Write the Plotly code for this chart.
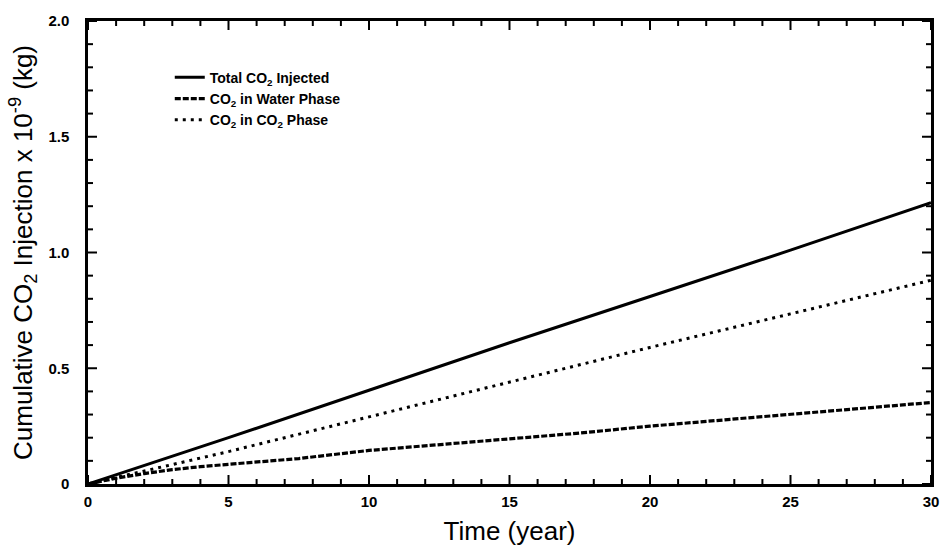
import plotly.graph_objects as go

# Data
years_total = [0, 5, 10, 15, 20, 25, 30]
total_injected = [0.0, 0.20, 0.405, 0.61, 0.81, 1.01, 1.215]

years_water = [0, 1, 2, 3, 4, 5, 7.5, 10, 12.5, 15, 17.5, 20, 22.5, 25, 27.5, 30]
co2_water = [0.0, 0.025, 0.045, 0.062, 0.075, 0.085, 0.11, 0.145, 0.17, 0.195,
             0.22, 0.25, 0.275, 0.30, 0.325, 0.352]

years_co2 = [0, 5, 10, 15, 20, 25, 30]
co2_co2phase = [0.0, 0.14, 0.29, 0.44, 0.59, 0.735, 0.88]

names = ["<b>Total CO<sub>2</sub> Injected</b>",
         "<b>CO<sub>2</sub> in Water Phase</b>",
         "<b>CO<sub>2</sub> in CO<sub>2</sub> Phase</b>"]

x_tick_vals = [0, 5, 10, 15, 20, 25, 30]
x_minor_vals = list(range(0, 31))
y_tick_vals = [0, 0.5, 1.0, 1.5, 2.0]
y_tick_text = ["0", "0.5", "1.0", "1.5", "2.0"]
y_minor_vals = [round(i * 0.1, 1) for i in range(0, 21)]

fig = go.Figure()
fig.add_trace(go.Scatter(x=years_total, y=total_injected, mode="lines", name=names[0],
                         line=dict(color="black", width=3)))
fig.add_trace(go.Scatter(x=years_water, y=co2_water, mode="lines", name=names[1],
                         line=dict(color="black", width=3.2, dash="6px,2px")))
fig.add_trace(go.Scatter(x=years_co2, y=co2_co2phase, mode="lines", name=names[2],
                         line=dict(color="black", width=3, dash="3px,5px")))

# Inside tick marks on all four sides (major longer than minor)
MAJ, MIN = 9, 5
shapes = []
tick_line = dict(color="black", width=2)
for v in x_minor_vals:
    L = MAJ if v in x_tick_vals else MIN
    for anchor, sgn in ((0, 1), (1, -1)):
        shapes.append(dict(type="line", xref="x", yref="paper", ysizemode="pixel",
                           yanchor=anchor, x0=v, x1=v, y0=0, y1=sgn * L, line=tick_line))
for v in y_minor_vals:
    L = MAJ if v in y_tick_vals else MIN
    for anchor, sgn in ((0, 1), (1, -1)):
        shapes.append(dict(type="line", xref="paper", yref="y", xsizemode="pixel",
                           xanchor=anchor, y0=v, y1=v, x0=0, x1=sgn * L, line=tick_line))

font_family = "Liberation Sans, Arial, sans-serif"

fig.update_layout(
    width=951, height=554,
    margin=dict(l=88, r=16, t=20, b=70),
    paper_bgcolor="white", plot_bgcolor="white",
    font=dict(family=font_family, color="black"),
    showlegend=True,
    shapes=shapes,
    legend=dict(x=0.097, y=0.912, xanchor="left", yanchor="top",
                bgcolor="rgba(0,0,0,0)", font=dict(size=14, family=font_family),
                tracegroupgap=0),
    xaxis=dict(range=[0, 30], tickmode="array", tickvals=x_tick_vals,
               ticktext=["<b>%d</b>" % v for v in x_tick_vals],
               ticks="", showline=True, linecolor="#000000", linewidth=2.5, mirror=True,
               showgrid=False, zeroline=False, ticklabelstandoff=2,
               tickfont=dict(size=15, family=font_family),
               title=dict(text="Time (year)", font=dict(size=26, family=font_family), standoff=14)),
    yaxis=dict(range=[0, 2.0], tickmode="array", tickvals=y_tick_vals,
               ticktext=["<b>%s</b>" % t for t in y_tick_text],
               ticks="", showline=True, linecolor="#000000", linewidth=2.5, mirror=True,
               showgrid=False, zeroline=False, ticklabelstandoff=13,
               tickfont=dict(size=15, family=font_family),
               title=dict(text="Cumulative CO<sub>2</sub> Injection x 10<sup>-9</sup> (kg)",
                          font=dict(size=26, family=font_family), standoff=9)),
)

fig.write_html("out.html")
